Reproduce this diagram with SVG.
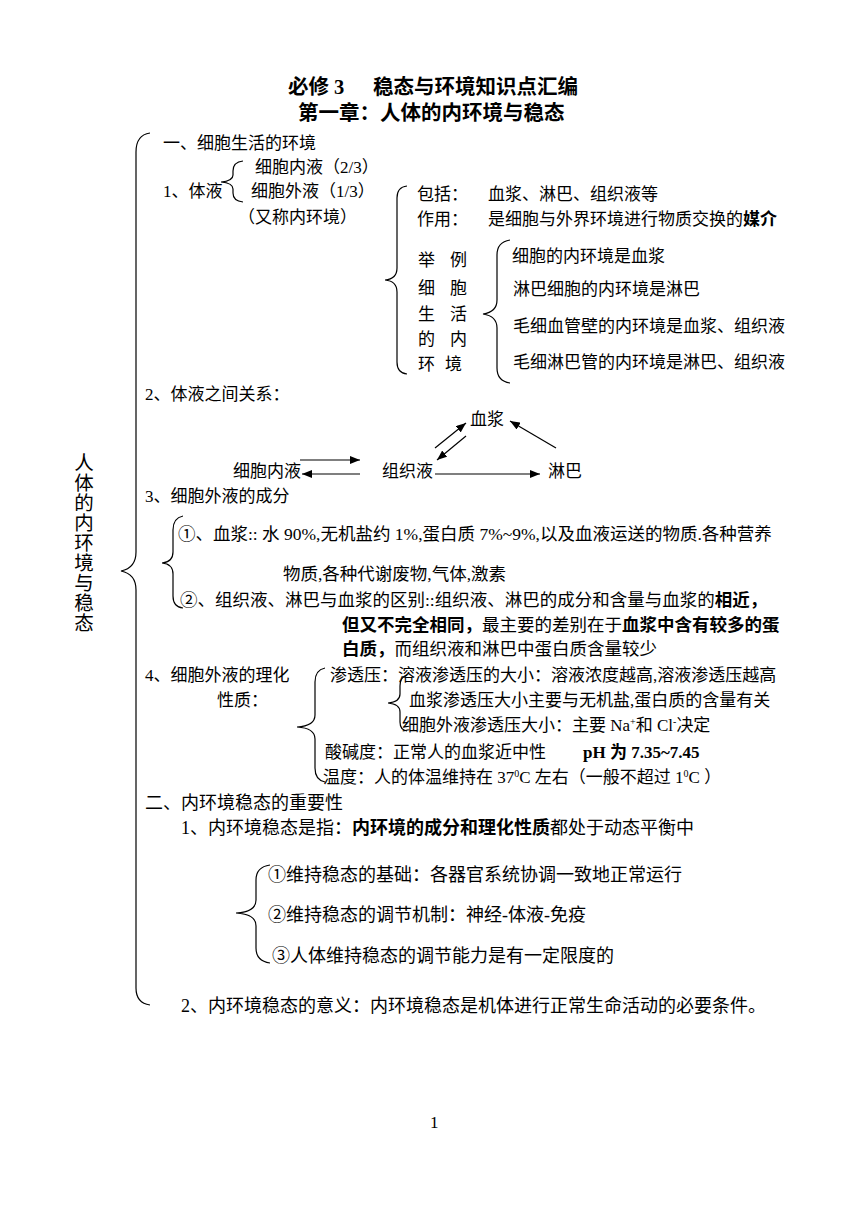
<svg xmlns="http://www.w3.org/2000/svg" width="860" height="1214" viewBox="0 0 860 1214">
<defs>
<style>
.t{font-family:"Liberation Serif","Noto Sans CJK SC",serif;font-size:17px;fill:#000}
.m{font-size:17.5px}
.l{font-size:18px}
.b{font-weight:bold}
.h{font-size:20.5px;font-weight:bold}
.v{font-size:19.5px}
.br{fill:none;stroke:#000;stroke-width:1.2}
.ar{stroke:#000;stroke-width:1.2;fill:none;marker-end:url(#ah)}
</style>
<marker id="ah" viewBox="0 0 10 8" refX="10" refY="4" markerWidth="10" markerHeight="8" markerUnits="userSpaceOnUse" orient="auto"><path d="M0,0 L10,4 L0,8 z" fill="#000"/></marker>
</defs>
<rect width="860" height="1214" fill="#fff"/>

<g id="title">
<text class="t h" x="288" y="94">必修 3</text>
<text class="t h" x="373" y="94">稳态与环境知识点汇编</text>
<text class="t h" x="298" y="120">第一章：人体的内环境与稳态</text>
</g>

<g id="root">
<path class="br" d="M150,133 Q136,135 136,152 L136,552 Q136,568 121,571 Q136,574 136,590 L136,988 Q136,1003 150,1005"/>
<text class="t v" text-anchor="middle">
<tspan x="84" y="470">人</tspan><tspan x="84" y="490">体</tspan><tspan x="84" y="510">的</tspan><tspan x="84" y="530">内</tspan><tspan x="84" y="550">环</tspan><tspan x="84" y="570">境</tspan><tspan x="84" y="590">与</tspan><tspan x="84" y="610">稳</tspan><tspan x="84" y="630">态</tspan>
</text>
</g>

<g id="sec1">
<text class="t" x="163" y="149">一、细胞生活的环境</text>
<text class="t" x="255" y="173">细胞内液（2/3）</text>
<text class="t" x="163" y="197">1、体液</text>
<path class="br" d="M243,161 Q233,162 233,171 L233,175 Q233,181 221,182 Q233,183 233,189 L233,193 Q233,201 243,202"/>
<text class="t" x="251" y="197">细胞外液（1/3）</text>
<text class="t" x="238" y="223">（又称内环境）</text>
</g>

<g id="sec1-detail">
<path class="br" d="M407,186 Q397,187 397,198 L397,268 Q397,279 385,280 Q397,281 397,292 L397,362 Q397,373 407,374"/>
<text class="t" x="417" y="200">包括：</text>
<text class="t" x="488" y="200">血浆、淋巴、组织液等</text>
<text class="t" x="417" y="225">作用：</text>
<text class="t" x="488" y="225">是细胞与外界环境进行物质交换的<tspan class="b">媒介</tspan></text>
<text class="t" x="418" y="266">举</text><text class="t" x="450" y="266">例</text>
<text class="t" x="418" y="294">细</text><text class="t" x="450" y="294">胞</text>
<text class="t" x="418" y="320">生</text><text class="t" x="450" y="320">活</text>
<text class="t" x="418" y="345">的</text><text class="t" x="450" y="345">内</text>
<text class="t" x="418" y="370">环</text><text class="t" x="445" y="370">境</text>
<path class="br" d="M510,240 Q497,242 497,255 L497,300 Q497,312 483,314 Q497,316 497,328 L497,368 Q497,381 510,383"/>
<text class="t" x="512" y="262">细胞的内环境是血浆</text>
<text class="t" x="513" y="295">淋巴细胞的内环境是淋巴</text>
<text class="t" x="513" y="332">毛细血管壁的内环境是血浆、组织液</text>
<text class="t" x="513" y="368">毛细淋巴管的内环境是淋巴、组织液</text>
</g>

<g id="sec2">
<text class="t" x="145" y="400">2、体液之间关系：</text>
</g>
<g id="node-plasma"><text class="t" x="470" y="425">血浆</text></g>
<g id="node-icf"><text class="t" x="233" y="477">细胞内液</text></g>
<g id="node-tissue"><text class="t" x="382" y="477">组织液</text></g>
<g id="node-lymph"><text class="t" x="548" y="477">淋巴</text></g>
<g id="connectors">
<line class="ar" x1="300" y1="460" x2="360" y2="460"/>
<line class="ar" x1="360" y1="474" x2="302" y2="474"/>
<line class="ar" x1="435" y1="474" x2="540" y2="474"/>
<line class="ar" x1="435" y1="448" x2="466" y2="423"/>
<line class="ar" x1="466" y1="436" x2="437" y2="460"/>
<line class="ar" x1="556" y1="448" x2="510" y2="421"/>
</g>

<g id="sec3">
<text class="t" x="145" y="502">3、细胞外液的成分</text>
<path class="br" d="M183,516 Q173,518 173,530 L173,552 Q173,562 162,563 Q173,564 173,574 L173,596 Q173,607 183,608"/>
<text class="t m" x="178" y="540">①、血浆:: 水 90%,无机盐约 1%,蛋白质 7%~9%,以及血液运送的物质.各种营养</text>
<text class="t m" x="283" y="580">物质,各种代谢废物,气体,激素</text>
<text class="t m" x="180" y="606">②、组织液、淋巴与血浆的区别::组织液、淋巴的成分和含量与血浆的<tspan class="b">相近，</tspan></text>
<text class="t m" x="342" y="631"><tspan class="b">但又不完全相同，</tspan>最主要的差别在于<tspan class="b">血浆中含有较多的蛋</tspan></text>
<text class="t m" x="342" y="655"><tspan class="b">白质，</tspan>而组织液和淋巴中蛋白质含量较少</text>
</g>

<g id="sec4">
<text class="t" x="145" y="681">4、细胞外液的理化</text>
<text class="t" x="217" y="706">性质：</text>
<path class="br" d="M325,668 Q315,670 315,682 L315,715 Q315,726 297,727 Q315,728 315,739 L315,768 Q315,780 325,782"/>
<text class="t" x="330" y="681">渗透压：</text>
<path class="br" d="M407,675 Q400,677 400,686 L400,694 Q400,702 388,703 Q400,704 400,712 L400,722 Q400,730 407,731"/>
<text class="t" x="398" y="681">溶液渗透压的大小：溶液浓度越高,溶液渗透压越高</text>
<text class="t" x="409" y="706">血浆渗透压大小主要与无机盐,蛋白质的含量有关</text>
<text class="t" x="402" y="731">细胞外液渗透压大小：主要 Na<tspan dy="-6" font-size="10">+</tspan><tspan dy="6">和 Cl</tspan><tspan dy="-6" font-size="10">-</tspan><tspan dy="6">决定</tspan></text>
<text class="t" x="325" y="758">酸碱度：正常人的血浆近中性</text>
<text class="t b" x="583" y="758">pH 为 7.35~7.45</text>
<text class="t" x="323" y="783">温度：人的体温维持在 37<tspan dy="-6" font-size="10">0</tspan><tspan dy="6">C 左右（一般不超过 1</tspan><tspan dy="-6" font-size="10">0</tspan><tspan dy="6">C ）</tspan></text>
</g>

<g id="part2">
<text class="t l" x="145" y="809">二、内环境稳态的重要性</text>
<text class="t l" x="181" y="834">1、内环境稳态是指：<tspan class="b">内环境的成分和理化性质</tspan>都处于动态平衡中</text>
<path class="br" d="M270,865 Q256,867 256,880 L256,900 Q256,912 236,913 Q256,914 256,926 L256,948 Q256,961 270,963"/>
<text class="t l" x="268" y="881">①维持稳态的基础：各器官系统协调一致地正常运行</text>
<text class="t l" x="268" y="921">②维持稳态的调节机制：神经-体液-免疫</text>
<text class="t l" x="272" y="962">③人体维持稳态的调节能力是有一定限度的</text>
<text class="t l" x="181" y="1012">2、内环境稳态的意义：内环境稳态是机体进行正常生命活动的必要条件。</text>
</g>

<g id="page">
<text class="t" x="430" y="1128" font-size="13">1</text>
</g>
</svg>
